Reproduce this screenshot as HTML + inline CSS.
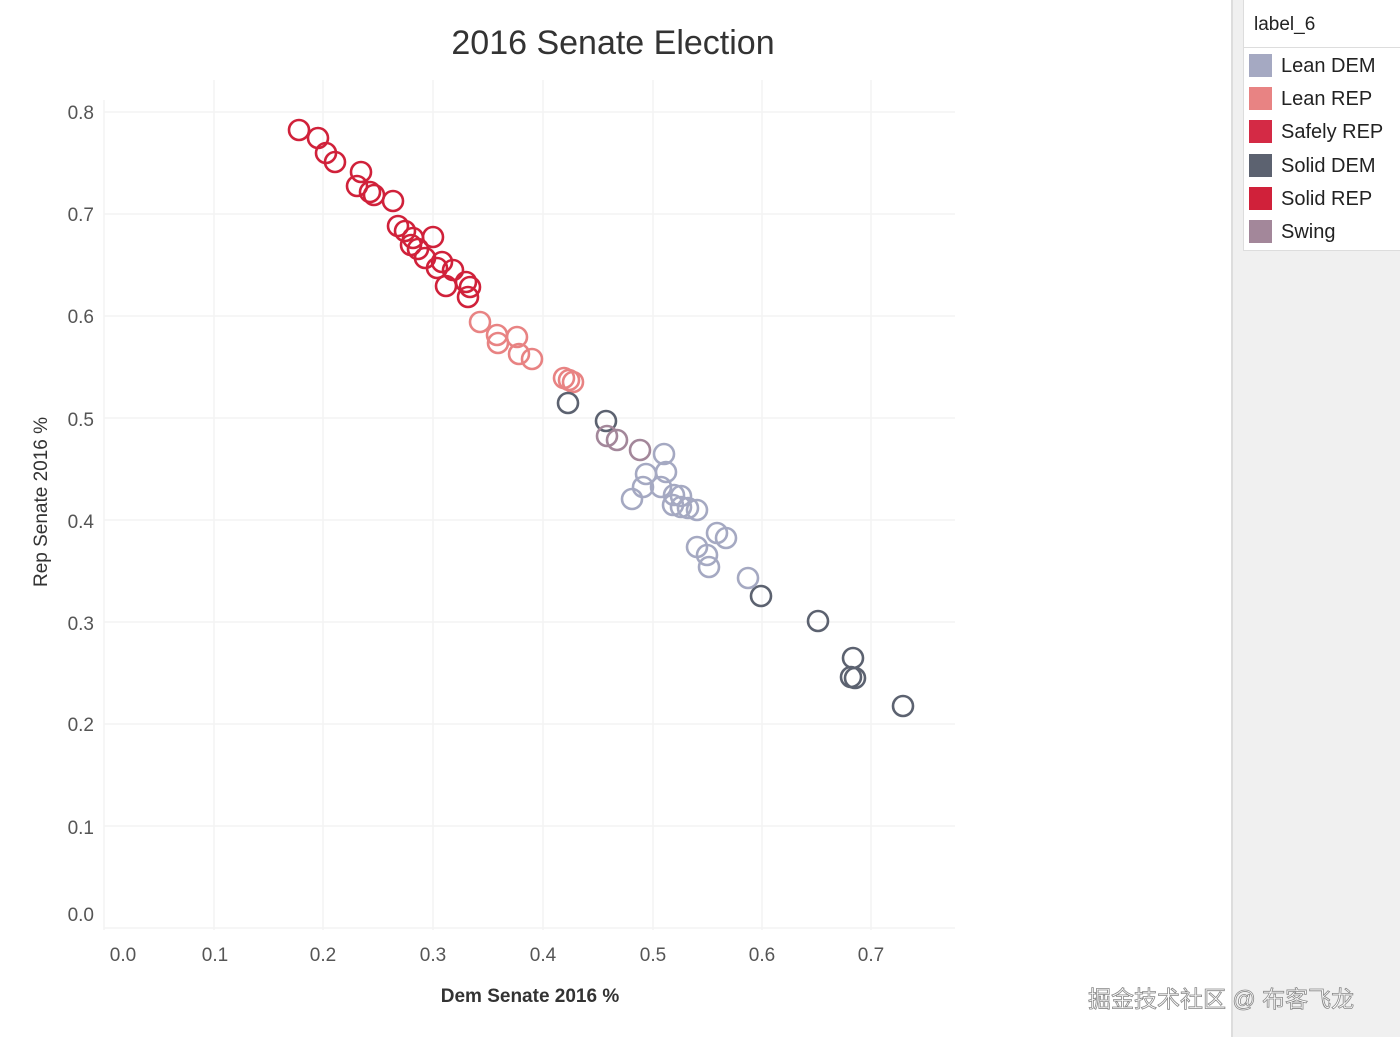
<!DOCTYPE html><html><head><style>
body{margin:0;width:1400px;height:1037px;background:#fff;font-family:"Liberation Sans",sans-serif;overflow:hidden;position:relative}
.side{position:absolute;left:1231px;top:0;width:169px;height:1037px;background:#f0f0f0;border-left:2px solid #ddd}
.lg{position:absolute;left:1243px;top:0;width:157px;height:250px;background:#fff;border-left:1px solid #ddd;border-bottom:1px solid #ddd}
.lg .t{position:absolute;left:10px;top:14px;font-size:19px;color:#222}
.lg .sep{position:absolute;left:0;top:47px;width:157px;border-top:1px solid #ddd}
.it{position:absolute;left:5px;font-size:20px;color:#222;height:24px;line-height:24px}
.it span{display:inline-block;width:23px;height:23px;vertical-align:top;margin-right:9px}
.wm{position:absolute;left:1088px;top:980px;font-size:23px;color:#fff;-webkit-text-stroke:0.8px #888;font-family:'Liberation Sans','Noto Sans CJK SC',sans-serif;z-index:5;white-space:nowrap}
</style></head><body>
<svg width="1231" height="1037" style="position:absolute;left:0;top:0">
<g stroke="#f3f3f3" stroke-width="1.5">
<line x1="104" y1="100" x2="104" y2="930"/><line x1="214" y1="80" x2="214" y2="930"/><line x1="323" y1="80" x2="323" y2="930"/><line x1="433" y1="80" x2="433" y2="930"/><line x1="543" y1="80" x2="543" y2="930"/><line x1="653" y1="80" x2="653" y2="930"/><line x1="762" y1="80" x2="762" y2="930"/><line x1="871" y1="80" x2="871" y2="930"/>
<line x1="104" y1="112" x2="955" y2="112"/><line x1="104" y1="214" x2="955" y2="214"/><line x1="104" y1="316" x2="955" y2="316"/><line x1="104" y1="418" x2="955" y2="418"/><line x1="104" y1="520" x2="955" y2="520"/><line x1="104" y1="622" x2="955" y2="622"/><line x1="104" y1="724" x2="955" y2="724"/><line x1="104" y1="826" x2="955" y2="826"/><line x1="104" y1="928" x2="955" y2="928"/>
</g>
<text x="613" y="54" text-anchor="middle" font-size="34" fill="#333">2016 Senate Election</text>
<g font-size="19" fill="#555" text-anchor="middle">
<text x="123" y="961">0.0</text><text x="215" y="961">0.1</text><text x="323" y="961">0.2</text><text x="433" y="961">0.3</text><text x="543" y="961">0.4</text><text x="653" y="961">0.5</text><text x="762" y="961">0.6</text><text x="871" y="961">0.7</text>
</g>
<g font-size="19" fill="#555" text-anchor="end">
<text x="94" y="119">0.8</text><text x="94" y="221">0.7</text><text x="94" y="323">0.6</text><text x="94" y="426">0.5</text><text x="94" y="528">0.4</text><text x="94" y="630">0.3</text><text x="94" y="731">0.2</text><text x="94" y="834">0.1</text><text x="94" y="921">0.0</text>
</g>
<text x="530" y="1002" text-anchor="middle" font-size="19" font-weight="bold" fill="#333">Dem Senate 2016 %</text>
<text transform="translate(47,502) rotate(-90)" text-anchor="middle" font-size="19" fill="#333">Rep Senate 2016 %</text>
<g fill="none" stroke-width="2.6" stroke="#d0213a">
<circle cx="299" cy="130" r="10"/><circle cx="318" cy="138" r="10"/><circle cx="326" cy="153" r="10"/><circle cx="335" cy="162" r="10"/><circle cx="361" cy="172" r="10"/><circle cx="357" cy="186" r="10"/><circle cx="370" cy="192" r="10"/><circle cx="374" cy="195" r="10"/><circle cx="393" cy="201" r="10"/><circle cx="398" cy="226" r="10"/><circle cx="405" cy="231" r="10"/><circle cx="413" cy="238" r="10"/><circle cx="411" cy="245" r="10"/><circle cx="418" cy="249" r="10"/><circle cx="433" cy="237" r="10"/><circle cx="425" cy="258" r="10"/><circle cx="437" cy="268" r="10"/><circle cx="442" cy="262" r="10"/><circle cx="453" cy="270" r="10"/><circle cx="446" cy="286" r="10"/><circle cx="466" cy="282" r="10"/><circle cx="468" cy="297" r="10"/><circle cx="470" cy="287" r="10"/>
</g>
<g fill="none" stroke-width="2.6" stroke="#e88383">
<circle cx="480" cy="322" r="10"/><circle cx="497" cy="335" r="10"/><circle cx="498" cy="343" r="10"/><circle cx="517" cy="337" r="10"/><circle cx="519" cy="354" r="10"/><circle cx="532" cy="359" r="10"/><circle cx="564" cy="378" r="10"/><circle cx="569" cy="380" r="10"/><circle cx="573" cy="382" r="10"/>
</g>
<g fill="none" stroke-width="2.6" stroke="#5c6270">
<circle cx="568" cy="403" r="10"/><circle cx="606" cy="421" r="10"/><circle cx="761" cy="596" r="10"/><circle cx="818" cy="621" r="10"/><circle cx="853" cy="658" r="10"/><circle cx="851" cy="677" r="10"/><circle cx="855" cy="678" r="10"/><circle cx="903" cy="706" r="10"/>
</g>
<g fill="none" stroke-width="2.6" stroke="#a3879a">
<circle cx="607" cy="436" r="10"/><circle cx="617" cy="440" r="10"/><circle cx="640" cy="450" r="10"/>
</g>
<g fill="none" stroke-width="2.6" stroke="#a5a9c2">
<circle cx="664" cy="454" r="10"/><circle cx="666" cy="472" r="10"/><circle cx="646" cy="474" r="10"/><circle cx="643" cy="487" r="10"/><circle cx="632" cy="499" r="10"/><circle cx="661" cy="487" r="10"/><circle cx="674" cy="495" r="10"/><circle cx="681" cy="496" r="10"/><circle cx="673" cy="505" r="10"/><circle cx="681" cy="507" r="10"/><circle cx="688" cy="508" r="10"/><circle cx="697" cy="510" r="10"/><circle cx="717" cy="533" r="10"/><circle cx="726" cy="538" r="10"/><circle cx="697" cy="547" r="10"/><circle cx="707" cy="555" r="10"/><circle cx="709" cy="567" r="10"/><circle cx="748" cy="578" r="10"/>
</g>
</svg>
<div class="side"></div>
<div class="lg"><div class="t">label_6</div><div class="sep"></div>
<div class="it" style="top:54px"><span style="background:#a5a9c2"></span>Lean DEM</div>
<div class="it" style="top:87px"><span style="background:#e88383"></span>Lean REP</div>
<div class="it" style="top:120px"><span style="background:#d42a45"></span>Safely REP</div>
<div class="it" style="top:154px"><span style="background:#5c6270"></span>Solid DEM</div>
<div class="it" style="top:187px"><span style="background:#d0213a"></span>Solid REP</div>
<div class="it" style="top:220px"><span style="background:#a3879a"></span>Swing</div>
</div>
<div class="wm">掘金技术社区 @ 布客飞龙</div>
</body></html>
